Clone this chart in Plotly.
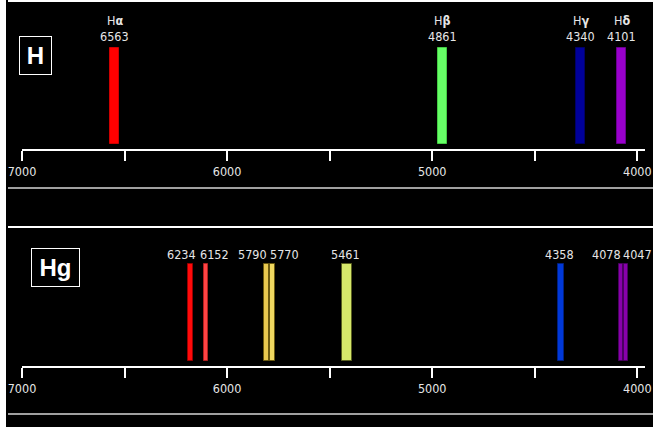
import plotly.graph_objects as go

# ---------------- data ----------------
h_names = ["H<b>α</b>", "H<b>β</b>", "H<b>γ</b>", "H<b>δ</b>"]
h_wavelengths = ["6563", "4861", "4340", "4101"]
h_positions = [6549, 4950, 4275, 4075]          # where the lines are drawn (Å)

hg_wavelengths = ["6234", "6152", "5790", "5770", "5461", "4358", "4078", "4047"]
hg_positions = [6179, 6103, 5808, 5779, 5417, 4372, 4080, 4056]

tick_values = [7000, 6500, 6000, 5500, 5000, 4500, 4000]
tick_labels = ["7000", "", "6000", "", "5000", "", "4000"]

# ---------------- styles ----------------
W, H = 653, 427
h_colors = ["#ff0000", "#66ff66", "#000099", "#9900cc"]
h_edge = ["#cc0000", "#44cc44", "#000066", "#6a008f"]
h_bar_width = 44
hg_colors = ["#ff0a0a", "#ff4444", "#e8c850", "#f0d860", "#d6e86a", "#0038d8", "#8800aa", "#8800aa"]
hg_edge = ["#990000", "#b02020", "#6b5a10", "#6b5a10", "#5a6020", "#002080", "#4a0060", "#4a0060"]
hg_bar_widths = [23, 20, 24, 24, 49, 31, 22, 22]
hg_label_shift = [-9, 9, -14, 12, -1, -2, -14, 12]

num_font = dict(family="DejaVu Sans Condensed, Liberation Sans Narrow, sans-serif",
                size=12.5, color="#e6e6e6")


def ydom(top_px, bot_px):
    return [(H - bot_px) / H, (H - top_px) / H]


fig = go.Figure()

# Hydrogen lines
fig.add_trace(go.Bar(
    x=h_positions, y=[96] * len(h_positions), base=48, width=h_bar_width,
    marker=dict(color=h_colors, line=dict(color=h_edge, width=1)),
    xaxis="x", yaxis="y", hoverinfo="skip"))

# Mercury lines
fig.add_trace(go.Bar(
    x=hg_positions, y=[97] * len(hg_positions), base=264, width=hg_bar_widths,
    marker=dict(color=hg_colors, line=dict(color=hg_edge, width=1)),
    xaxis="x2", yaxis="y2", hoverinfo="skip"))

axis_common = dict(
    range=[7000, 3965], domain=[22 / W, 644.5 / W], automargin=False,
    tickmode="array", tickvals=tick_values, ticktext=tick_labels,
    showline=True, linecolor="white", linewidth=2,
    ticks="outside", ticklen=10, tickwidth=2, tickcolor="white",
    tickfont=num_font, showgrid=False, zeroline=False, fixedrange=True)

fig.update_layout(
    width=W, height=H, autosize=False,
    margin=dict(l=0, r=0, t=0, b=0, pad=0, autoexpand=False),
    paper_bgcolor="black", plot_bgcolor="black",
    showlegend=False, bargap=0,
    xaxis=dict(anchor="y", **axis_common),
    xaxis2=dict(anchor="y2", **axis_common),
    yaxis=dict(domain=ydom(0, 149), range=[149, 0], visible=False, fixedrange=True,
               automargin=False),
    yaxis2=dict(domain=ydom(227, 366), range=[366, 227], visible=False, fixedrange=True,
                automargin=False),
)

annotations = []
for name, wl, pos in zip(h_names, h_wavelengths, h_positions):
    annotations.append(dict(x=pos, y=20, xref="x", yref="y", text=name, showarrow=False,
                            font=num_font, xanchor="center", yanchor="middle"))
    annotations.append(dict(x=pos, y=36, xref="x", yref="y", text=wl, showarrow=False,
                            font=num_font, xanchor="center", yanchor="middle"))
for wl, pos, sh in zip(hg_wavelengths, hg_positions, hg_label_shift):
    annotations.append(dict(x=pos, y=255, xref="x2", yref="y2", text=wl, showarrow=False,
                            font=num_font, xanchor="center", yanchor="middle", xshift=sh))

box_font = dict(family="Liberation Sans, Arial, sans-serif", size=24, color="white")
annotations.append(dict(x=35.5 / W, y=(H - 55.7) / H, xref="paper", yref="paper",
                        text="<b>H</b>", showarrow=False, font=box_font,
                        width=31, height=37, borderpad=0, borderwidth=1, bordercolor="white",
                        xanchor="center", yanchor="middle"))
annotations.append(dict(x=55.2 / W, y=(H - 267.3) / H, xref="paper", yref="paper",
                        text="<b>Hg</b>", showarrow=False, font=box_font,
                        width=47, height=37, borderpad=0, borderwidth=1, bordercolor="white",
                        xanchor="center", yanchor="middle"))
fig.update_layout(annotations=annotations)


def hline(ypx, color):
    return dict(type="line", xref="paper", yref="paper", x0=8 / W, x1=1,
                y0=(H - ypx) / H, y1=(H - ypx) / H, line=dict(color=color, width=2))


fig.update_layout(shapes=[
    dict(type="rect", xref="paper", yref="paper", x0=0, x1=6 / W, y0=0, y1=1,
         fillcolor="white", line=dict(width=0), layer="above"),
    hline(1, "white"), hline(188, "#a0a0a0"),
    hline(227, "white"), hline(414, "#a0a0a0"),
])

fig.write_html("out.html", config={"displayModeBar": False},
               post_script="document.body.style.margin='0';document.body.style.overflow='hidden';")
